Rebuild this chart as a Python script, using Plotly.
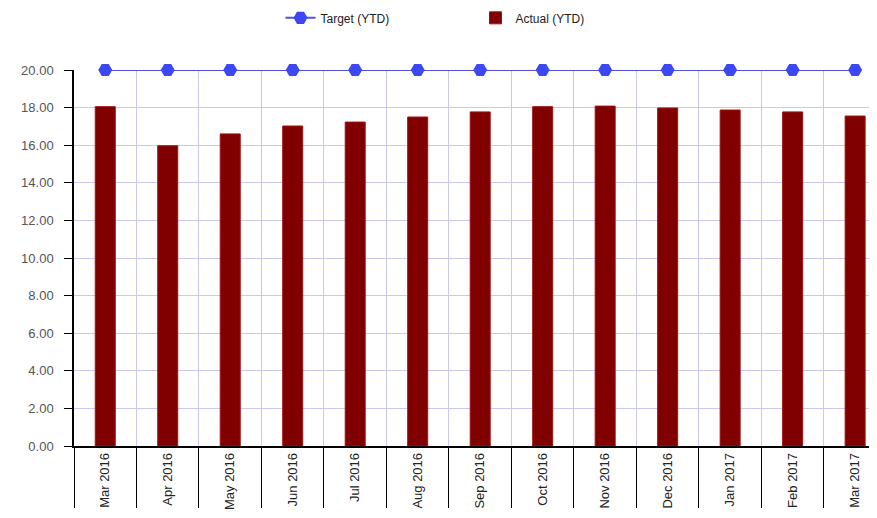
import plotly.graph_objects as go

months = ["Mar 2016", "Apr 2016", "May 2016", "Jun 2016", "Jul 2016", "Aug 2016",
          "Sep 2016", "Oct 2016", "Nov 2016", "Dec 2016", "Jan 2017", "Feb 2017", "Mar 2017"]
actual_ytd = [18.05, 15.97, 16.6, 17.02, 17.23, 17.5, 17.77, 18.05, 18.08, 17.98, 17.87, 17.77, 17.55]
target_ytd = [20.0] * 13
y_ticks = [0, 2, 4, 6, 8, 10, 12, 14, 16, 18, 20]

fig = go.Figure()
fig.add_trace(go.Scatter(
    x=months, y=target_ytd, name="Target (YTD)", mode="lines+markers",
    line=dict(color="#4f52d6", width=2),
    marker=dict(symbol="hexagon2", size=14, color="#3d48f5", line=dict(width=0)),
    cliponaxis=False,
))
fig.add_trace(go.Bar(
    x=months, y=actual_ytd, name="Actual (YTD)", width=0.32,
    marker=dict(color="#800000", line=dict(color="#a01010", width=1)),
))

fig.update_layout(
    width=877, height=518,
    margin=dict(l=66, r=8, t=62, b=80),
    paper_bgcolor="white", plot_bgcolor="white",
    font=dict(family="Arial, Liberation Sans, sans-serif", size=12, color="#333"),
    showlegend=True,
    legend=dict(orientation="h", x=0.5, xanchor="center", y=0.981, yanchor="middle",
                yref="container", font=dict(size=12, color="#222"),
                traceorder="normal", entrywidthmode="pixels", entrywidth=150),
    bargap=0.5,
)
fig.update_xaxes(
    type="category", range=[-0.5, 12.35],
    tickson="boundaries", ticks="outside", ticklen=60, tickcolor="black", tickwidth=1,
    showgrid=True, gridcolor="#c9c9ef", gridwidth=1,
    showline=True, linecolor="black", linewidth=1.5,
    tickangle=-90, tickfont=dict(size=13, color="#222"),
)
fig.update_yaxes(
    range=[0, 20], tickvals=y_ticks, tickformat=".2f",
    ticks="outside", ticklen=8, tickcolor="black",
    showgrid=True, gridcolor="#c9c9ef", gridwidth=1,
    showline=True, linecolor="black", linewidth=1.5,
    tickfont=dict(size=13, color="#555"), zeroline=False,
    ticklabelstandoff=8,
)
fig.write_html("out.html")
